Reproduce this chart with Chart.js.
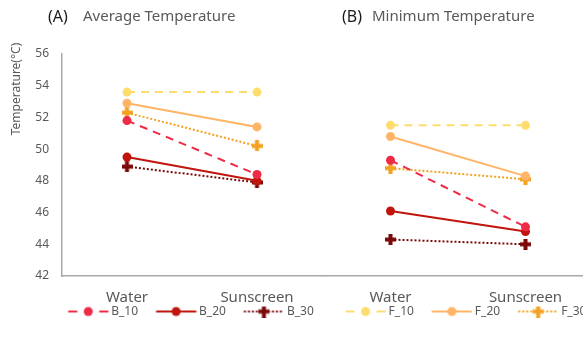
<!DOCTYPE html>
<html>
<head>
<meta charset="utf-8">
<script src="https://cdn.jsdelivr.net/npm/chart.js@4/dist/chart.umd.min.js"></script>
<style>
  html, body { margin: 0; padding: 0; background: #fff; overflow: hidden; width: 583px; height: 349px; }
  canvas { position: absolute; top: 0; }
  #avgChart { left: 0; }
  #minChart { left: 283px; }
</style>
</head>
<body>
<canvas id="avgChart" width="364" height="349"></canvas>
<canvas id="minChart" width="348" height="349"></canvas>
<script>
// Treatments on the x axis
const conditions = ['Water', 'Sunscreen'];
const seriesNames = ['B_10', 'B_20', 'B_30', 'F_10', 'F_20', 'F_30'];

// (A) Average temperature, °C  [Water, Sunscreen]
const avgB10 = [51.8, 48.4];
const avgB20 = [49.5, 48.0];
const avgB30 = [48.9, 47.9];
const avgF10 = [53.6, 53.6];
const avgF20 = [52.9, 51.4];
const avgF30 = [52.3, 50.2];

// (B) Minimum temperature, °C  [Water, Sunscreen]
const minB10 = [49.3, 45.1];
const minB20 = [46.1, 44.8];
const minB30 = [44.3, 44.0];
const minF10 = [51.5, 51.5];
const minF20 = [50.8, 48.3];
const minF30 = [48.8, 48.1];

// Temperature axis range and step
const yMin = 42;
const yMax = 56;
const yStep = 2;

const FONT = '"Noto Sans", "Open Sans", sans-serif';
const TEXT = '#595959';
const AXIS = '#A8A8A8';

const seriesStyle = {
  B_10: { color: '#EE2A46', dash: [8, 6], marker: 'circle' },
  B_20: { color: '#C0140C', dash: [],     marker: 'circle' },
  B_30: { color: '#7A0A0A', dash: [2, 2], marker: 'plus' },
  F_10: { color: '#FFDC6E', dash: [8, 6], marker: 'circle' },
  F_20: { color: '#FFB466', dash: [],     marker: 'circle' },
  F_30: { color: '#F4A020', dash: [2, 2], marker: 'plus' }
};

// Thick "plus" marker drawn on a small canvas
function plusMarker(color) {
  const size = 11, arm = 4;
  const c = document.createElement('canvas');
  c.width = size; c.height = size;
  const g = c.getContext('2d');
  g.fillStyle = color;
  const o = (size - arm) / 2;
  g.fillRect(0, o, size, arm);
  g.fillRect(o, 0, arm, size);
  return c;
}

// Legend entry geometry: leading gap, line sample, then the label
const LEG_GAP = 18;        // space before each entry
const LEG_LINE = 40;       // length of the line sample
const LEG_BOX = 55;        // box width handed to the legend
const LEG_IMG = 62;        // swatch canvas width (centred on the box)
const LEG_OFF = LEG_GAP - (LEG_BOX / 2 - LEG_IMG / 2);

// Legend swatch: line sample with the marker in the middle
function legendSwatch(name) {
  const st = seriesStyle[name];
  const h = 12, cy = 6;
  const x0 = LEG_OFF, x1 = LEG_OFF + LEG_LINE, xm = (x0 + x1) / 2;
  const c = document.createElement('canvas');
  c.width = LEG_IMG; c.height = h;
  const g = c.getContext('2d');
  g.strokeStyle = st.color;
  g.lineWidth = 2;
  g.beginPath();
  if (name.endsWith('_10')) {
    g.moveTo(x0, cy); g.lineTo(x0 + 9, cy);
    g.moveTo(x1 - 9, cy); g.lineTo(x1, cy);
  } else {
    g.setLineDash(st.dash);
    g.moveTo(x0, cy); g.lineTo(x1, cy);
  }
  g.stroke();
  g.fillStyle = st.color;
  if (st.marker === 'circle') {
    g.beginPath(); g.arc(xm, cy, 4.5, 0, Math.PI * 2); g.fill();
  } else {
    g.drawImage(plusMarker(st.color), xm - 5.5, cy - 5.5);
  }
  return c;
}

const swatches = {};
seriesNames.forEach(n => { swatches[n] = legendSwatch(n); });

function makeDatasets(values) {
  return seriesNames.map((name, i) => {
    const st = seriesStyle[name];
    return {
      label: name,
      data: values[i],
      borderColor: st.color,
      backgroundColor: st.color,
      borderWidth: 2,
      borderDash: st.dash,
      pointStyle: st.marker === 'plus' ? plusMarker(st.color) : 'circle',
      pointRadius: 4.5,
      pointBorderWidth: 0,
      pointBackgroundColor: st.color,
      tension: 0
    };
  });
}

// Panel heading ("(A)  ...") and optional vertical axis caption
const panelText = {
  id: 'panelText',
  afterDraw(chart, args, o) {
    const ctx = chart.ctx;
    ctx.save();
    ctx.textBaseline = 'middle';
    ctx.textAlign = 'left';
    ctx.font = '16px ' + FONT;
    ctx.fillStyle = '#1A1A1A';
    ctx.fillText(o.tag, o.tagX, o.y);
    ctx.font = '15px ' + FONT;
    ctx.fillStyle = TEXT;
    ctx.fillText(o.text, o.textX, o.y);
    if (o.axisTitle) {
      ctx.translate(o.axisX, o.axisY);
      ctx.rotate(-Math.PI / 2);
      ctx.textAlign = 'center';
      ctx.font = '12px ' + FONT;
      ctx.fillText(o.axisTitle, 0, 0);
    }
    ctx.restore();
  }
};

function buildOptions(opts) {
  return {
    responsive: false,
    animation: false,
    events: [],
    layout: { padding: { top: 54, bottom: 21.5, left: 0, right: 0 } },
    scales: {
      x: {
        type: 'category',
        offset: true,
        grid: { display: false, drawTicks: false },
        border: { display: true, color: AXIS, width: 1.5 },
        ticks: { color: TEXT, font: { family: FONT, size: 15, lineHeight: 1 }, padding: 14.5, maxRotation: 0 },
        afterFit: s => { s.height = 29.5; }
      },
      y: {
        display: true,
        min: yMin,
        max: yMax,
        grid: { display: false, drawTicks: false },
        border: { display: opts.showY, color: AXIS, width: 1.5 },
        ticks: { display: opts.showY, stepSize: yStep, color: TEXT, font: { family: FONT, size: 12 }, padding: 13 },
        afterFit: s => { s.width = opts.left; }
      },
      spacer: {
        type: 'linear',
        position: 'right',
        display: true,
        grid: { display: false, drawTicks: false },
        border: { display: false },
        ticks: { display: false },
        afterFit: s => { s.width = opts.spacer; }
      }
    },
    plugins: {
      title: { display: false },
      tooltip: { enabled: false },
      legend: {
        display: true,
        position: 'bottom',
        fullSize: true,
        labels: {
          usePointStyle: true,
          pointStyleWidth: LEG_BOX,
          padding: 0,
          color: TEXT,
          font: { family: FONT, size: 12, lineHeight: 1 },
          generateLabels: chart => {
            const items = Chart.defaults.plugins.legend.labels.generateLabels(chart);
            return items
              .filter(it => it.text.startsWith(opts.legendGroup))
              .map(it => Object.assign(it, { pointStyle: swatches[it.text], fontColor: TEXT }));
          }
        }
      },
      panelText: opts.panel
    }
  };
}

new Chart(document.getElementById('avgChart'), {
  type: 'line',
  data: {
    labels: conditions,
    datasets: makeDatasets([avgB10, avgB20, avgB30, avgF10, avgF20, avgF30])
  },
  options: buildOptions({
    showY: true,
    left: 62,
    spacer: 42,
    legendGroup: 'B',
    panel: {
      tag: '(A)', tagX: 48, text: 'Average Temperature', textX: 83, y: 17,
      axisTitle: 'Temperature(°C)', axisX: 17, axisY: 89
    }
  }),
  plugins: [panelText]
});

new Chart(document.getElementById('minChart'), {
  type: 'line',
  data: {
    labels: conditions,
    datasets: makeDatasets([minB10, minB20, minB30, minF10, minF20, minF30])
  },
  options: buildOptions({
    showY: false,
    left: 40,
    spacer: 38,
    legendGroup: 'F',
    panel: { tag: '(B)', tagX: 59, text: 'Minimum Temperature', textX: 89, y: 17 }
  }),
  plugins: [panelText]
});
</script>
</body>
</html>
